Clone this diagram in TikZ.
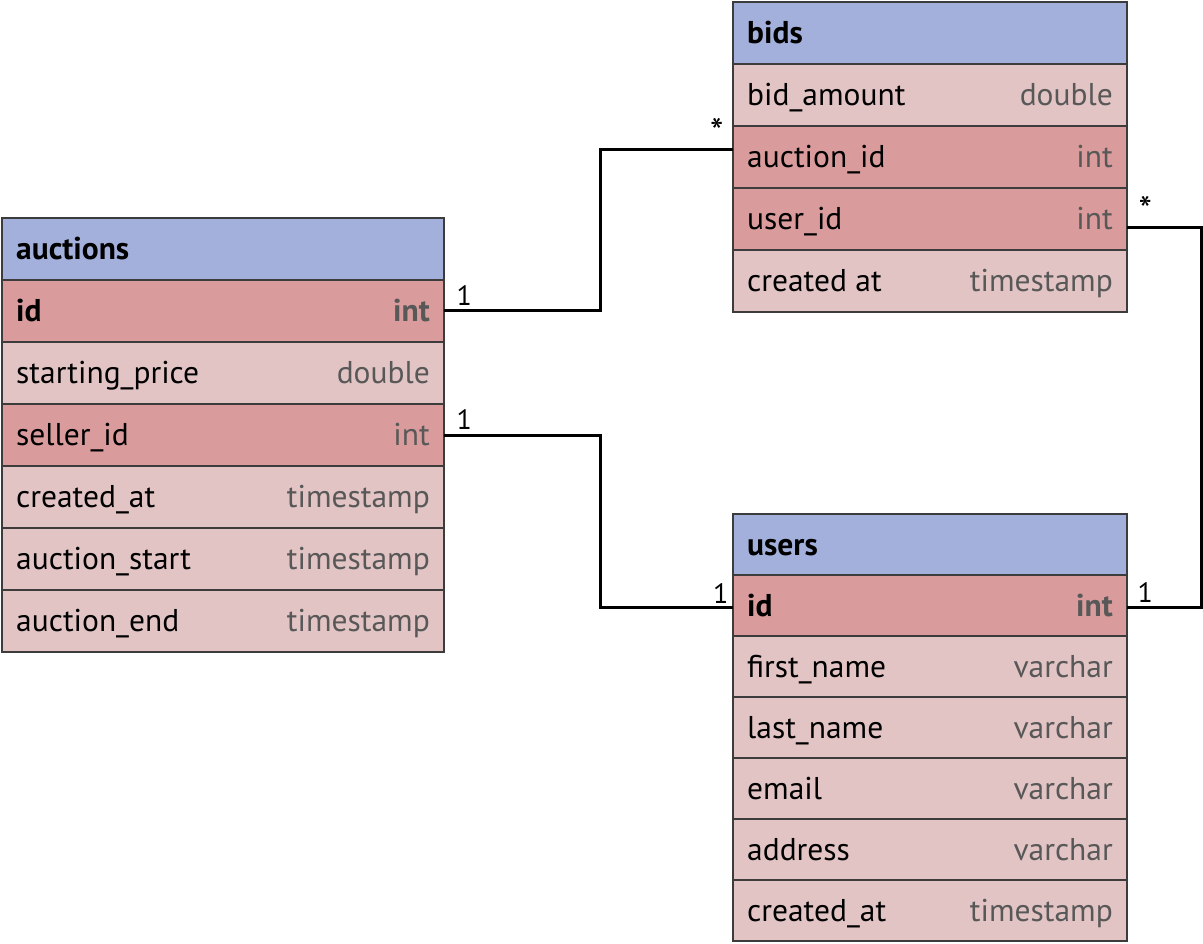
\documentclass[tikz,border=0pt]{standalone}
\usepackage{fontspec}
\setmainfont{PT Sans}
\usetikzlibrary{positioning}
\definecolor{headblue}{RGB}{162,176,219}
\definecolor{keyred}{RGB}{217,155,155}
\definecolor{rowpink}{RGB}{227,196,196}
\definecolor{typegray}{RGB}{88,88,88}
\definecolor{rim}{RGB}{60,60,60}

\begin{document}
\begin{tikzpicture}[x=1pt, y=1pt,
      every node/.style={font=\fontsize{31.5}{34}\selectfont},
      cell/.style={rectangle, draw=rim, line width=1.3pt, outer sep=0pt,
                   minimum height=62pt, inner sep=0pt},
      hdr/.style={cell, fill=headblue},
      keyrow/.style={cell, fill=keyred},
      row/.style={cell, fill=rowpink},
      tabA/.style={minimum width=442pt},
      tabB/.style={minimum width=394pt},
      short/.style={minimum height=61pt},
      fname/.style={anchor=west, inner xsep=14pt, text height=25pt, text depth=4pt},
      ftype/.style={anchor=east, inner xsep=14pt, text height=25pt, text depth=4pt,
                    text=typegray},
      link/.style={line width=3pt, black},
      card/.style={font=\fontsize{28}{30}\selectfont, inner sep=3pt},
      star/.style={font=\fontsize{38}{40}\selectfont, inner sep=0pt}
    ]
    \useasboundingbox (0,0) rectangle (1203,-944);

    % auctions
    \node[hdr, tabA, anchor=north west, label={[fname]west:\textbf{auctions}}] (auc) at (2,-218) {};
    \node[keyrow, tabA, below=0pt of auc, label={[fname]west:\textbf{id}},
          label={[ftype]east:\textbf{int}}] (a-id) {};
    \node[row, tabA, below=0pt of a-id, label={[fname]west:starting\_price},
          label={[ftype]east:double}] (a-price) {};
    \node[keyrow, tabA, below=0pt of a-price, label={[fname]west:seller\_id},
          label={[ftype]east:int}] (a-sel) {};
    \node[row, tabA, below=0pt of a-sel, label={[fname]west:created\_at},
          label={[ftype]east:timestamp}] (a-crt) {};
    \node[row, tabA, below=0pt of a-crt, label={[fname]west:auction\_start},
          label={[ftype]east:timestamp}] (a-start) {};
    \node[row, tabA, below=0pt of a-start, label={[fname]west:auction\_end},
          label={[ftype]east:timestamp}] (a-end) {};

    % bids
    \node[hdr, tabB, anchor=north west, label={[fname]west:\textbf{bids}}] (bid) at (733,-2) {};
    \node[row, tabB, below=0pt of bid, label={[fname]west:bid\_amount},
          label={[ftype]east:double}] (b-amt) {};
    \node[keyrow, tabB, below=0pt of b-amt, label={[fname]west:auction\_id},
          label={[ftype]east:int}] (b-auc) {};
    \node[keyrow, tabB, below=0pt of b-auc, label={[fname]west:user\_id},
          label={[ftype]east:int}] (b-usr) {};
    \node[row, tabB, below=0pt of b-usr, label={[fname]west:created at},
          label={[ftype]east:timestamp}] (b-crt) {};

    % users
    \node[hdr, tabB, short, anchor=north west, label={[fname]west:\textbf{users}}] (usr) at (733,-514) {};
    \node[keyrow, tabB, short, below=0pt of usr, label={[fname]west:\textbf{id}},
          label={[ftype]east:\textbf{int}}] (u-id) {};
    \node[row, tabB, short, below=0pt of u-id, label={[fname]west:first\_name},
          label={[ftype]east:varchar}] (u-first) {};
    \node[row, tabB, short, below=0pt of u-first, label={[fname]west:last\_name},
          label={[ftype]east:varchar}] (u-last) {};
    \node[row, tabB, short, below=0pt of u-last, label={[fname]west:email},
          label={[ftype]east:varchar}] (u-mail) {};
    \node[row, tabB, short, below=0pt of u-mail, label={[fname]west:address},
          label={[ftype]east:varchar}] (u-addr) {};
    \node[row, tabB, short, below=0pt of u-addr, label={[fname]west:created\_at},
          label={[ftype]east:timestamp}] (u-crt) {};

    % relations
    \draw[link] (a-id.east) node[card, above right=1pt and 8pt] {1}
          -- ++(156,0) |- ([yshift=7pt]b-auc.west) node[star, above left=3pt and 8pt] {*};
    \draw[link] (a-sel.east) node[card, above right=1pt and 8pt] {1}
          -- ++(156,0) |- ([yshift=-2pt]u-id.west) node[card, above left] {1};
    \draw[link] ([yshift=-9pt]b-usr.east) node[star, above right=3pt and 10pt] {*}
          -- ++(74,0) |- ([yshift=-2pt]u-id.east) node[card, above right=1pt and 6pt] {1};
  \end{tikzpicture}
\end{document}
